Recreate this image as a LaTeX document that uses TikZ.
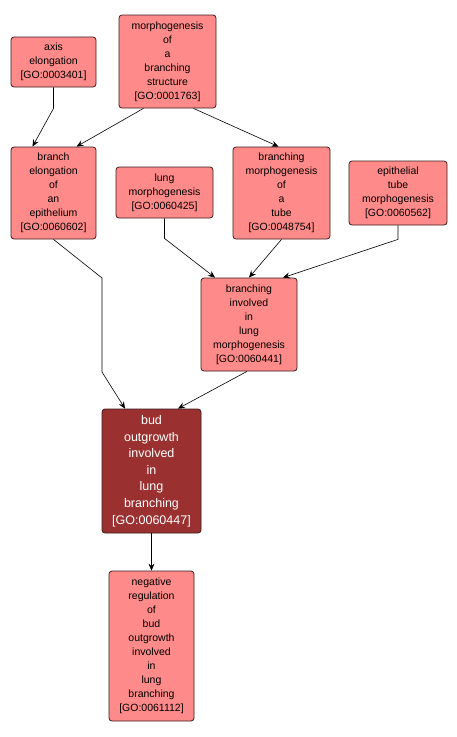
\documentclass[tikz,border=0pt]{standalone}
\usepackage{fontspec}
\setmainfont{Liberation Sans}
\usetikzlibrary{arrows.meta,calc}
\definecolor{boxfill}{RGB}{255,138,138}
\definecolor{boxdark}{RGB}{154,48,48}
\definecolor{boxline}{RGB}{60,30,30}
\tikzset{
  x=1pt,y=-1pt,
  gobox/.style={draw=boxline,line width=0.8pt,fill=boxfill,rounded corners=3pt,align=center,
    inner sep=0pt,font=\fontsize{10.5}{14}\selectfont,text=black},
  gocur/.style={gobox,fill=boxdark,text=white,font=\fontsize{12.5}{16.6}\selectfont},
  arr/.style={draw=black,line width=0.6pt,-{Stealth[length=7pt,width=6pt,inset=2.5pt]}}
}
\begin{document}
\begin{tikzpicture}
\useasboundingbox (0,0) rectangle (457,737);
\fill[white] (0,0) rectangle (457,737);
\node[gobox,minimum width=85pt,minimum height=50pt] (axis) at (53.5,62) {axis\\elongation\\{[GO:0003401]}};
\node[gobox,minimum width=97pt,minimum height=93pt] (mbs) at (167.5,61.5) {morphogenesis\\of\\a\\branching\\structure\\{[GO:0001763]}};
\node[gobox,minimum width=85pt,minimum height=92pt] (be) at (53.5,193) {branch\\elongation\\of\\an\\epithelium\\{[GO:0060602]}};
\node[gobox,minimum width=97pt,minimum height=51pt] (lm) at (164.5,192.5) {lung\\morphogenesis\\{[GO:0060425]}};
\node[gobox,minimum width=97pt,minimum height=92pt] (bmt) at (281.5,193) {branching\\morphogenesis\\of\\a\\tube\\{[GO:0048754]}};
\node[gobox,minimum width=98pt,minimum height=64pt] (etm) at (398,193) {epithelial\\tube\\morphogenesis\\{[GO:0060562]}};
\node[gobox,minimum width=96pt,minimum height=93pt] (bilm) at (249,324.5) {branching\\involved\\in\\lung\\morphogenesis\\{[GO:0060441]}};
\node[gocur,minimum width=99pt,minimum height=124pt] (bud) at (151.5,471) {bud\\outgrowth\\involved\\in\\lung\\branching\\{[GO:0060447]}};
\node[gobox,minimum width=85pt,minimum height=150pt] (neg) at (151.5,646) {negative\\regulation\\of\\bud\\outgrowth\\involved\\in\\lung\\branching\\{[GO:0061112]}};
\draw[arr] (axis.south) -- ++(0,21) -- ([xshift=-21pt]be.north);
\draw[arr] ([xshift=-24pt]mbs.south) -- ([xshift=23pt]be.north);
\draw[arr] ([xshift=26pt]mbs.south) -- ([xshift=-3pt]bmt.north);
\draw[arr] (lm.south) -- ++(0,20) -- ([xshift=-34pt]bilm.north);
\draw[arr] (bmt.south) -- (bilm.north);
\draw[arr] (etm.south) -- ++(0,14) -- ([xshift=34pt]bilm.north);
\coordinate (k1) at (102,278);
\coordinate (k2) at (102,372);
\draw[arr] (be.south) -- (k1) -- (k2) -- ([xshift=-26.5pt]bud.north);
\draw[arr] ([xshift=-2pt]bilm.south) -- ([xshift=26.5pt]bud.north);
\draw[arr] (bud.south) -- (neg.north);
\end{tikzpicture}
\end{document}
